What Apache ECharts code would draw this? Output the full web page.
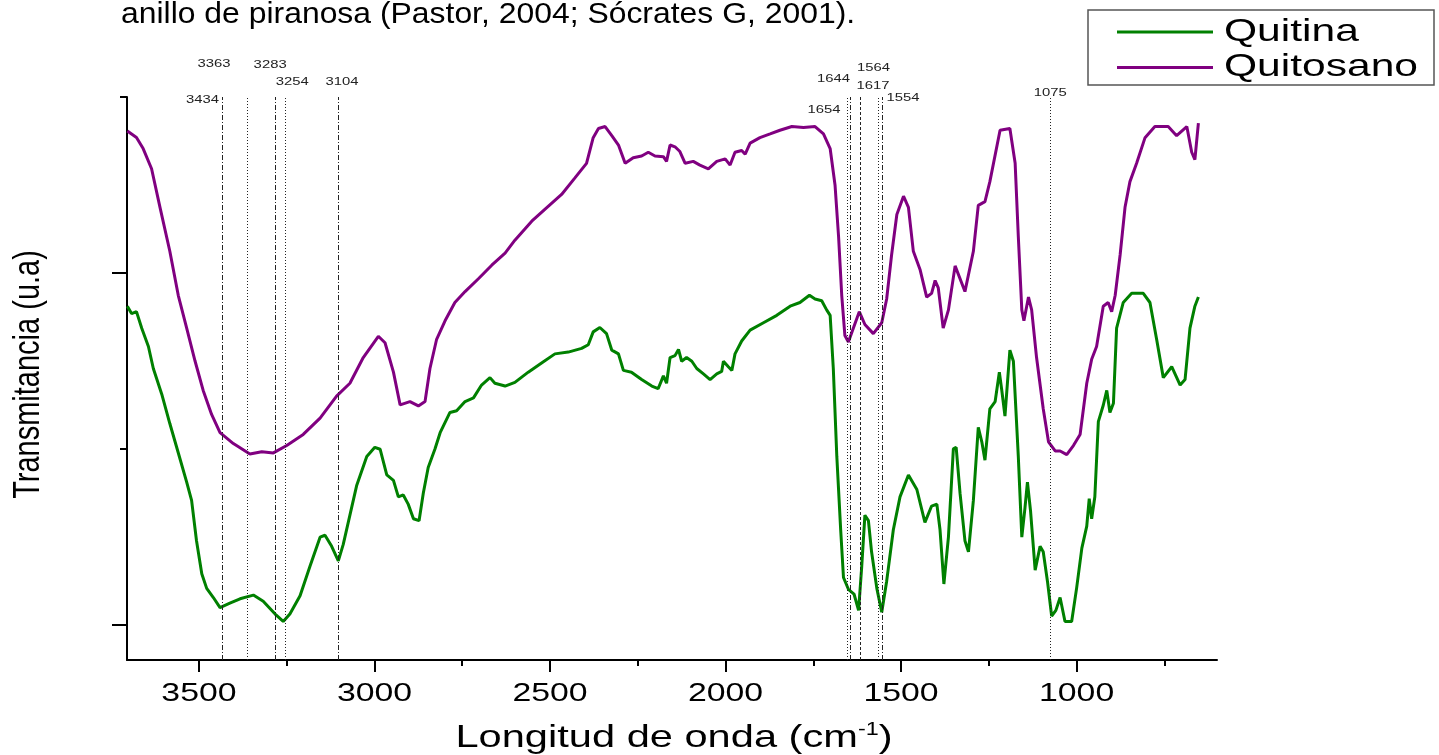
<!DOCTYPE html>
<html><head><meta charset="utf-8">
<script src="https://cdn.jsdelivr.net/npm/echarts@6/dist/echarts.min.js"></script>
<style>html,body{margin:0;padding:0;background:#fff}#c{width:1439px;height:755px}</style>
</head><body><div id="c"></div>
<script>
// ---- data (wavenumber cm-1, transmittance a.u.) ----
const quitina = [[3704,1.811],[3692,1.769],[3678,1.78],[3663,1.686],[3644,1.582],[3630,1.457],[3606,1.311],[3583,1.144],[3559,0.978],[3535,0.811],[3521,0.707],[3507,0.478],[3492,0.29],[3478,0.207],[3459,0.155],[3440,0.098],[3412,0.123],[3383,0.148],[3345,0.169],[3317,0.134],[3283,0.061],[3260,0.019],[3241,0.061],[3212,0.165],[3184,0.332],[3155,0.498],[3141,0.509],[3122,0.446],[3103,0.363],[3089,0.457],[3070,0.623],[3051,0.79],[3022,0.957],[2999,1.009],[2984,0.998],[2965,0.852],[2946,0.821],[2932,0.727],[2918,0.738],[2904,0.686],[2889,0.603],[2873,0.592],[2861,0.748],[2847,0.894],[2828,0.998],[2813,1.092],[2785,1.207],[2766,1.217],[2742,1.269],[2718,1.29],[2695,1.363],[2671,1.405],[2657,1.373],[2628,1.357],[2600,1.378],[2562,1.436],[2524,1.488],[2486,1.54],[2448,1.55],[2410,1.571],[2391,1.592],[2377,1.665],[2358,1.69],[2339,1.655],[2324,1.561],[2305,1.54],[2291,1.446],[2268,1.436],[2239,1.394],[2210,1.357],[2192,1.342],[2177,1.415],[2168,1.373],[2158,1.519],[2144,1.53],[2134,1.565],[2125,1.498],[2111,1.519],[2096,1.498],[2082,1.457],[2063,1.426],[2044,1.394],[2025,1.426],[2011,1.44],[2006,1.498],[1992,1.467],[1982,1.446],[1973,1.54],[1954,1.613],[1930,1.675],[1892,1.717],[1854,1.759],[1816,1.811],[1788,1.832],[1761,1.873],[1745,1.852],[1726,1.842],[1712,1.79],[1702,1.759],[1693,1.457],[1683,0.957],[1672,0.54],[1664,0.269],[1650,0.202],[1634,0.175],[1621,0.082],[1612,0.332],[1603,0.623],[1593,0.592],[1584,0.415],[1569,0.207],[1555,0.071],[1541,0.248],[1522,0.54],[1503,0.727],[1479,0.852],[1455,0.769],[1432,0.582],[1413,0.675],[1398,0.686],[1389,0.54],[1378,0.232],[1365,0.5],[1351,1.0],[1343,1.009],[1332,0.748],[1318,0.478],[1308,0.415],[1294,0.707],[1280,1.123],[1270,1.04],[1261,0.936],[1247,1.228],[1232,1.269],[1220,1.436],[1213,1.332],[1204,1.186],[1190,1.561],[1180,1.498],[1166,0.957],[1156,0.498],[1147,0.665],[1140,0.811],[1131,0.644],[1118,0.311],[1104,0.446],[1095,0.415],[1083,0.248],[1071,0.05],[1059,0.082],[1047,0.155],[1033,0.019],[1014,0.019],[1000,0.207],[985,0.436],[971,0.561],[964,0.717],[957,0.603],[948,0.728],[938,1.155],[924,1.248],[914,1.332],[905,1.207],[895,1.259],[886,1.686],[867,1.832],[843,1.884],[810,1.884],[791,1.832],[772,1.623],[753,1.405],[729,1.467],[705,1.363],[691,1.394],[677,1.686],[663,1.811],[653,1.863]];
const quitosano = [[3704,2.807],[3678,2.77],[3659,2.707],[3635,2.592],[3611,2.373],[3583,2.123],[3559,1.873],[3535,1.686],[3511,1.498],[3488,1.332],[3464,1.196],[3440,1.092],[3402,1.03],[3355,0.971],[3321,0.984],[3288,0.977],[3250,1.019],[3203,1.082],[3155,1.175],[3108,1.30],[3070,1.373],[3032,1.519],[2989,1.64],[2970,1.603],[2946,1.436],[2927,1.25],[2899,1.269],[2875,1.244],[2856,1.269],[2842,1.457],[2823,1.623],[2799,1.728],[2771,1.832],[2742,1.894],[2704,1.967],[2666,2.044],[2628,2.113],[2600,2.186],[2552,2.294],[2514,2.363],[2467,2.446],[2429,2.54],[2396,2.623],[2377,2.769],[2362,2.821],[2343,2.832],[2324,2.78],[2305,2.727],[2286,2.623],[2263,2.655],[2239,2.665],[2220,2.686],[2201,2.665],[2177,2.661],[2168,2.634],[2158,2.727],[2144,2.717],[2130,2.69],[2115,2.623],[2092,2.634],[2073,2.613],[2049,2.592],[2025,2.634],[2001,2.648],[1987,2.613],[1973,2.686],[1954,2.696],[1944,2.675],[1930,2.738],[1902,2.769],[1873,2.79],[1845,2.811],[1811,2.832],[1778,2.827],[1745,2.832],[1721,2.79],[1702,2.707],[1688,2.498],[1678,2.207],[1669,1.873],[1660,1.644],[1650,1.607],[1636,1.686],[1619,1.78],[1603,1.707],[1579,1.655],[1555,1.717],[1541,1.852],[1527,2.102],[1512,2.332],[1493,2.436],[1479,2.373],[1465,2.123],[1446,2.02],[1427,1.863],[1413,1.884],[1403,1.957],[1394,1.915],[1380,1.686],[1365,1.79],[1346,2.04],[1318,1.894],[1294,2.123],[1280,2.384],[1261,2.405],[1247,2.519],[1218,2.811],[1190,2.821],[1175,2.623],[1166,2.207],[1156,1.79],[1150,1.728],[1137,1.863],[1128,1.79],[1114,1.519],[1095,1.228],[1080,1.04],[1061,0.988],[1047,0.988],[1028,0.967],[1009,1.019],[990,1.082],[971,1.373],[957,1.509],[943,1.582],[924,1.811],[910,1.832],[900,1.78],[890,1.873],[876,2.102],[862,2.373],[848,2.519],[829,2.623],[805,2.769],[777,2.832],[739,2.832],[715,2.78],[686,2.832],[672,2.686],[663,2.644],[653,2.852]];
const seriesNames = ['Quitina', 'Quitosano'];
const xTickLabels = [3500, 3000, 2500, 2000, 1500, 1000];
const xMinorTicks = [3250, 2750, 2250, 1750, 1250, 750];
const yMajorTicks = [0, 2];
const yMinorTicks = [1, 3];
const peaks = [3434, 3363, 3283, 3254, 3104, 1654, 1644, 1617, 1564, 1554, 1075];
const titleText = 'anillo de piranosa (Pastor, 2004; Sócrates G, 2001).';
const yName = 'Transmitancia (u.a)';

// ---- styles / layout ----
const colors = ['#008000', '#800080'];
const FONT = '"Liberation Sans", Arial, sans-serif';
const DASHDOT = [5, 2, 1, 2], DOT = [1, 2], DASH = [3, 2];
const peakLineTypes = [DASHDOT, DOT, DASHDOT, DOT, DASHDOT, DOT, DASHDOT, DASH, DOT, DASHDOT, DOT];
// [dx from line, dy from grid top, align]
const peakLabelLayout = [[-3,3,'right'],[-33,-33,'center'],[-5,-32,'center'],[7,-15,'center'],[4,-15,'center'],[-23,13,'center'],[-17,-18,'center'],[13,-11,'center'],[-5,-29,'center'],[21,1,'center'],[0,-4,'center']];

const chart = echarts.init(document.getElementById('c'), null, {renderer: 'canvas'});
const XMIN = 600, XMAX = 3705, YMIN = -0.2, YMAX = 3;
const baseX = {type: 'value', min: XMIN, max: XMAX, inverse: true, position: 'bottom',
  axisLabel: {show: false}, splitLine: {show: false}};
const baseY = {type: 'value', min: YMIN, max: YMAX, position: 'left',
  axisLabel: {show: false}, splitLine: {show: false}};
const option = {
  animation: false,
  backgroundColor: '#ffffff',
  grid: {left: 127, top: 97, width: 1090, height: 563, containLabel: false, outerBoundsMode: 'none'},
  xAxis: [
    Object.assign({}, baseX, {axisLine: {show: true, onZero: false, lineStyle: {color: '#000', width: 2}},
      axisTick: {show: true, customValues: xTickLabels, length: 12, lineStyle: {color: '#000', width: 2}}}),
    Object.assign({}, baseX, {axisLine: {show: false, onZero: false},
      axisTick: {show: true, customValues: xMinorTicks, length: 6, lineStyle: {color: '#000', width: 2}}})
  ],
  yAxis: [
    Object.assign({}, baseY, {axisLine: {show: true, onZero: false, lineStyle: {color: '#000', width: 2}},
      axisTick: {show: true, customValues: yMajorTicks, length: 15, lineStyle: {color: '#000', width: 2}}}),
    Object.assign({}, baseY, {axisLine: {show: false, onZero: false},
      axisTick: {show: true, customValues: yMinorTicks, length: 7, lineStyle: {color: '#000', width: 2}}})
  ],
  series: [
    {name: seriesNames[0], type: 'line', data: quitina, showSymbol: false, smooth: false,
      lineStyle: {color: colors[0], width: 3}, itemStyle: {color: colors[0]}, z: 3,
      markLine: {silent: true, symbol: ['none', 'none'], label: {show: false}, animation: false,
        data: peaks.map((p, i) => ({xAxis: p, lineStyle: {color: '#222', width: 1, type: peakLineTypes[i]}}))}},
    {name: seriesNames[1], type: 'line', data: quitosano, showSymbol: false, smooth: false,
      lineStyle: {color: colors[1], width: 3}, itemStyle: {color: colors[1]}, z: 3}
  ]
};
chart.setOption(option);

const px = v => chart.convertToPixel({xAxisIndex: 0}, v);
const gridTop = chart.convertToPixel({yAxisIndex: 0}, YMAX);
const gridBottom = chart.convertToPixel({yAxisIndex: 0}, YMIN);
const gridLeft = px(XMAX), gridRight = px(XMIN);

function txt(text, x, y, size, align, vAlign, sx, fill) {
  return {type: 'text', x: x, y: y, scaleX: sx || 1, silent: true, z: 10,
    style: {text: text, fontSize: size, fontFamily: FONT, fill: fill || '#000',
      align: align, textAlign: align, verticalAlign: vAlign, textVerticalAlign: vAlign}};
}
const g = [];
// title (cut at top of the page)
g.push(txt(titleText, 121, 29, 29, 'left', 'bottom', 1.1));
// x tick labels
xTickLabels.forEach(v => g.push(txt(String(v), px(v), gridBottom + 34, 26, 'center', 'middle', 1.3)));
// x axis name with superscript
g.push({type: 'text', x: (gridLeft + gridRight) / 2 + 2, y: gridBottom + 95, scaleX: 1.3, silent: true, z: 10,
  style: {text: '{a|Longitud de onda (cm}{s|-1}{a|)}', fontFamily: FONT, fill: '#000',
    align: 'center', textAlign: 'center', verticalAlign: 'bottom', textVerticalAlign: 'bottom',
    rich: {a: {fontSize: 32, lineHeight: 34, fontFamily: FONT, fill: '#000'},
           s: {fontSize: 18, lineHeight: 34, fontFamily: FONT, fill: '#000', verticalAlign: 'top', padding: [0, 0, 0, 0]}}}});
// y axis name
g.push({type: 'text', x: 29, y: (gridTop + gridBottom) / 2 - 4, rotation: Math.PI / 2, scaleY: 1.3, silent: true, z: 10,
  style: {text: yName, fontSize: 29, fontFamily: FONT, fill: '#000', align: 'center', textAlign: 'center',
    verticalAlign: 'middle', textVerticalAlign: 'middle'}});
// peak labels
peaks.forEach((p, i) => {
  const L = peakLabelLayout[i];
  g.push(txt(String(p), px(p) + L[0], gridTop + L[1], 11, L[2], 'middle', 1.35, '#222'));
});
// legend
g.push({type: 'rect', shape: {x: 1088, y: 10, width: 346, height: 75}, silent: true, z: 9,
  style: {fill: '#fff', stroke: '#555', lineWidth: 1.5}});
seriesNames.forEach((n, i) => {
  const yy = 32 + i * 35.5;
  g.push({type: 'line', shape: {x1: 1117, y1: yy, x2: 1213, y2: yy}, silent: true, z: 10,
    style: {stroke: colors[i], lineWidth: 3}});
  g.push(txt(n, 1224, yy, 32, 'left', 'middle', 1.33));
});
chart.setOption({graphic: g});
</script></body></html>
